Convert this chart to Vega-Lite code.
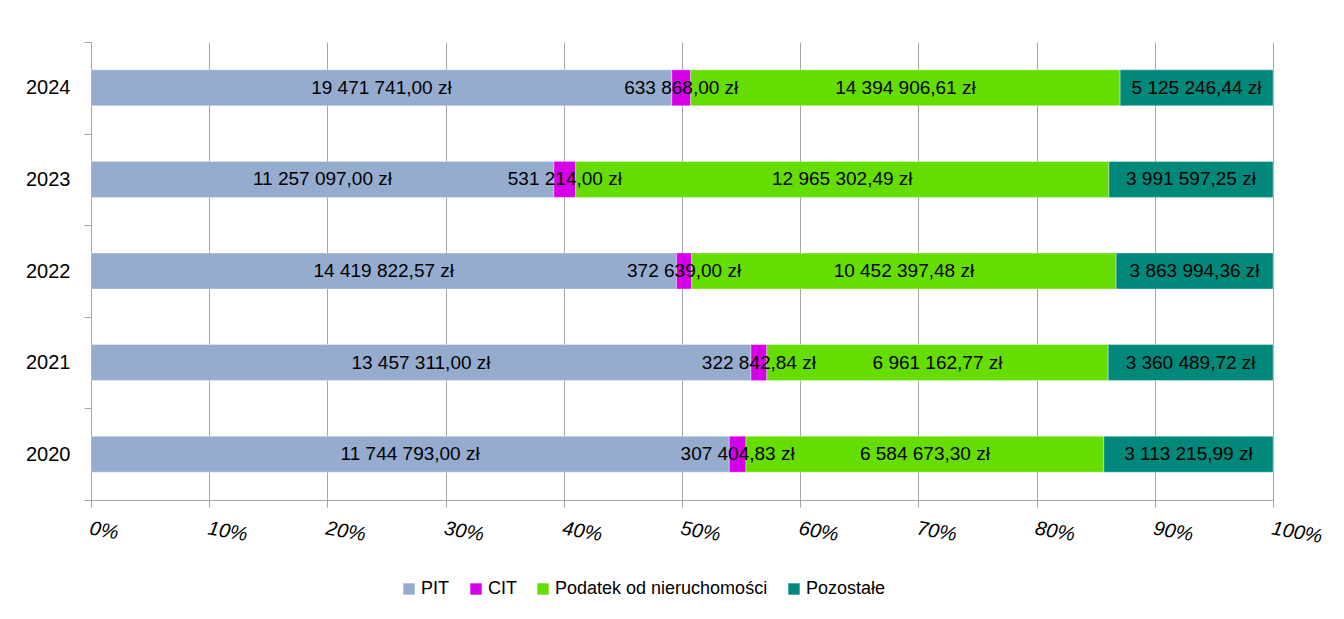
{
  "$schema": "https://vega.github.io/schema/vega-lite/v6.json",
  "autosize": "none",
  "width": 1182,
  "height": 458,
  "padding": {"left": 91, "top": 42, "right": 71, "bottom": 119},
  "background": "#ffffff",
  "config": {
    "font": "Liberation Sans",
    "view": {"stroke": null},
    "locale": {
      "number": {"decimal": ",", "thousands": " ", "grouping": [3], "currency": ["", " zł"]}
    }
  },
  "data": {
    "values": [
      {"rok": "2024", "kat": "PIT", "kwota": 19471741.00},
      {"rok": "2024", "kat": "CIT", "kwota": 633868.00},
      {"rok": "2024", "kat": "Podatek od nieruchomości", "kwota": 14394906.61},
      {"rok": "2024", "kat": "Pozostałe", "kwota": 5125246.44},
      {"rok": "2023", "kat": "PIT", "kwota": 11257097.00},
      {"rok": "2023", "kat": "CIT", "kwota": 531214.00},
      {"rok": "2023", "kat": "Podatek od nieruchomości", "kwota": 12965302.49},
      {"rok": "2023", "kat": "Pozostałe", "kwota": 3991597.25},
      {"rok": "2022", "kat": "PIT", "kwota": 14419822.57},
      {"rok": "2022", "kat": "CIT", "kwota": 372639.00},
      {"rok": "2022", "kat": "Podatek od nieruchomości", "kwota": 10452397.48},
      {"rok": "2022", "kat": "Pozostałe", "kwota": 3863994.36},
      {"rok": "2021", "kat": "PIT", "kwota": 13457311.00},
      {"rok": "2021", "kat": "CIT", "kwota": 322842.84},
      {"rok": "2021", "kat": "Podatek od nieruchomości", "kwota": 6961162.77},
      {"rok": "2021", "kat": "Pozostałe", "kwota": 3360489.72},
      {"rok": "2020", "kat": "PIT", "kwota": 11744793.00},
      {"rok": "2020", "kat": "CIT", "kwota": 307404.83},
      {"rok": "2020", "kat": "Podatek od nieruchomości", "kwota": 6584673.30},
      {"rok": "2020", "kat": "Pozostałe", "kwota": 3113215.99}
    ]
  },
  "transform": [
    {"calculate": "indexof(['PIT','CIT','Podatek od nieruchomości','Pozostałe'], datum.kat)", "as": "kolej"},
    {"stack": "kwota", "groupby": ["rok"], "sort": [{"field": "kolej", "order": "ascending"}], "offset": "normalize", "as": ["x0", "x1"]},
    {"calculate": "(datum.x0 + datum.x1) / 2", "as": "xm"}
  ],
  "encoding": {
    "y": {
      "field": "rok",
      "type": "ordinal",
      "sort": "descending",
      "scale": {"paddingInner": 0, "paddingOuter": 0},
      "axis": {
        "title": null,
        "tickBand": "extent",
        "domainColor": "#a6a6a6",
        "tickColor": "#a6a6a6",
        "tickSize": 7,
        "labelPadding": 14,
        "labelFontSize": 20,
        "labelColor": "#000000",
        "grid": false
      }
    }
  },
  "layer": [
    {
      "mark": {"type": "bar", "height": {"band": 0.393}, "stroke": "#ffffff", "strokeWidth": 0.6, "strokeOpacity": 0.6},
      "encoding": {
        "x": {
          "field": "x0",
          "type": "quantitative",
          "scale": {"domain": [0, 1], "nice": false},
          "axis": {
            "title": null,
            "values": [0, 0.1, 0.2, 0.3, 0.4, 0.5, 0.6, 0.7, 0.8, 0.9, 1],
            "format": ".0%",
            "grid": true,
            "gridColor": "#a6a6a6",
            "gridOpacity": 1,
            "domainColor": "#a6a6a6",
            "tickColor": "#a6a6a6",
            "tickSize": 7,
            "labelPadding": 11,
            "labelAngle": 10,
            "labelAlign": "left",
            "labelBaseline": "top",
            "labelFontSize": 20,
            "labelFontStyle": "italic",
            "labelColor": "#000000",
            "labelFlush": false,
            "labelOverlap": false
          }
        },
        "x2": {"field": "x1"},
        "color": {
          "field": "kat",
          "type": "nominal",
          "scale": {
            "domain": ["PIT", "CIT", "Podatek od nieruchomości", "Pozostałe"],
            "range": ["#95ACCE", "#D600E8", "#66DD00", "#00897A"]
          },
          "legend": {
            "title": null,
            "orient": "none",
            "direction": "horizontal",
            "legendX": 309,
            "legendY": 538,
            "symbolType": "square",
            "symbolSize": 130,
            "symbolStrokeWidth": 0,
            "labelFontSize": 18,
            "labelLimit": 0,
            "labelColor": "#000000",
            "labelOffset": 3,
            "columnPadding": 17
          }
        }
      }
    },
    {
      "mark": {"type": "text", "fontSize": 19, "color": "#000000", "align": "center", "baseline": "middle"},
      "encoding": {
        "x": {"field": "xm", "type": "quantitative"},
        "text": {"field": "kwota", "type": "quantitative", "format": "$,.2f"}
      }
    }
  ]
}
